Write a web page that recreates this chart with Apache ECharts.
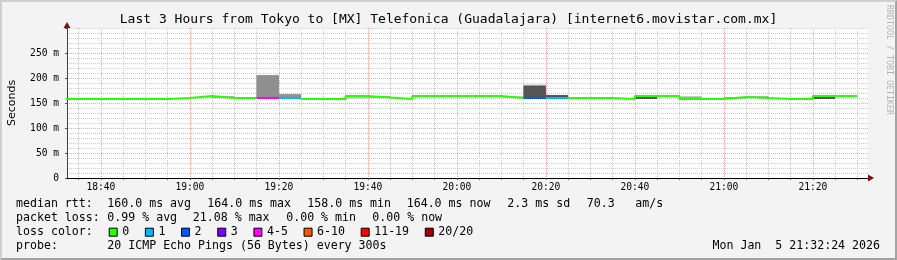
<!DOCTYPE html>
<html>
<head>
<meta charset="utf-8">
<script src="https://cdn.jsdelivr.net/npm/echarts@6/dist/echarts.min.js"></script>
<style>
html,body{margin:0;padding:0;background:#f3f3f3;}
#wrap{position:relative;width:897px;height:260px;}
#chart{position:absolute;left:0;top:0;width:897px;height:260px;}
#frame{position:absolute;left:0;top:0;width:897px;height:260px;box-sizing:border-box;
  border-top:2px solid #cfcfcf;border-left:2px solid #cfcfcf;border-right:2px solid #a3a3a3;border-bottom:2px solid #a3a3a3;pointer-events:none;}
</style>
</head>
<body>
<div id="wrap"><div id="chart"></div><div id="frame"></div></div>
<script>
// ---------------- data ----------------
const chartTitle = 'Last 3 Hours from Tokyo to [MX] Telefonica (Guadalajara) [internet6.movistar.com.mx]';
const intervalStart = ['18:30','18:35','18:40','18:45','18:50','18:55','19:00','19:05','19:10','19:15','19:20','19:25',
  '19:30','19:35','19:40','19:45','19:50','19:55','20:00','20:05','20:10','20:15','20:20','20:25',
  '20:30','20:35','20:40','20:45','20:50','20:55','21:00','21:05','21:10','21:15','21:20','21:25'];
const medianMs = [158,158,158,158,158,160,164,160,160,160,160,158,
  158,164,161,158,164,164,164,164,160,160,160,160,
  160,158,164,164,158,158,162,160,158,158,164,164];
const lostPings = [0,0,0,0,0,0,0,0,0,4,1,0,
  0,0,0,0,0,0,0,0,0,2,1,0,
  0,0,0,0,0,0,0,0,0,0,0,0];
// smoke bands: [interval start, low ms, high ms]
const smokeOuter = [['19:05',160,163.6],['19:15',159.5,205.5],['19:20',159.5,167.5],['19:35',158,164],['19:40',160.5,163.6],
  ['20:10',160,164],['20:15',159.5,187],['20:20',159.5,166],['20:40',158,164],['20:50',158,163],['21:00',158,162],['21:05',160,163.6],['21:20',158,164]];
const smokeMid = [['19:05',160,163.6],['19:15',159.5,205.5],['19:20',159.5,167.5],['19:40',160.5,163.6],
  ['20:15',159.5,186],['20:20',159.5,166],['20:40',158,164],['20:50',158,163],['21:00',158,162],['21:05',160,163.6],['21:20',158,164]];
const smokeInner = [['19:15',159.5,205.5],['19:20',159.5,167.5],['20:15',159.5,185],['20:20',159.5,166],['20:40',158,164],['21:20',158,164]];
const smokeCore = [['20:15',159.5,184],['20:20',159.5,166],['20:40',158,164],['21:20',158,164]];
const lossBuckets = ['0','1','2','3','4-5','6-10','11-19','20/20'];
const lossBucketMax = [0,1,2,3,5,10,19,20];
const xTickLabels = ['18:40','19:00','19:20','19:40','20:00','20:20','20:40','21:00','21:20'];
const yTickLabels = ['0','50 m','100 m','150 m','200 m','250 m'];
const viewStart = '18:32:24', viewEnd = '21:32:24';
const stepMinutes = 5;
const stats = {medAvg:'160.0', medMax:'164.0', medMin:'158.0', medNow:'164.0', sd:'2.3', amps:'70.3',
  lossAvg:'0.99', lossMax:'21.08', lossMin:'0.00', lossNow:'0.00'};
const probeText = '20 ICMP Echo Pings (56 Bytes) every 300s';
const dateText = 'Mon Jan  5 21:32:24 2026';

// ---------------- helpers ----------------
function toMin(s){const p=s.split(':').map(Number);return (p[0]-18)*60+p[1]+(p[2]||0)/60;}
const lossColors = ['#26ff00','#00b8ff','#0059ff','#7e00ff','#ff00ff','#ff5500','#ff0000','#a10000'];
function bucketOf(l){for(let b=0;b<lossBucketMax.length;b++){if(l<=lossBucketMax[b])return b;}return lossBucketMax.length-1;}
const xMin = toMin(viewStart), xMax = toMin(viewEnd);
const majorX = xTickLabels.map(toMin);
const minorX = [];
for (let t = Math.ceil(xMin/stepMinutes)*stepMinutes; t < xMax; t += stepMinutes) { if (t % 20 !== 0) minorX.push(t); }

const medianSeries = lossBuckets.map((name, b) => {
  const data = [];
  for (let i = 0; i < medianMs.length; i++) {
    if (bucketOf(lostPings[i]) !== b) continue;
    const t0 = toMin(intervalStart[i]), t1 = t0 + stepMinutes;
    data.push([t0, medianMs[i]], [t1, medianMs[i]]);
    if (i + 1 >= medianMs.length || bucketOf(lostPings[i+1]) !== b) data.push([t1, '-']);
  }
  return {name, type:'line', data, color: lossColors[b], symbol:'none', showSymbol:false,
    lineStyle:{width:2, color:lossColors[b]}, itemStyle:{color:lossColors[b]}, clip:true, z:5, animation:false, silent:true};
});

function smokeSeries(band, color, z){
  return {type:'custom', clip:true, z, silent:true, animation:false,
    data: band.map(r => [toMin(r[0]), toMin(r[0]) + stepMinutes, r[1], r[2]]),
    encode:{x:[0,1], y:[2,3]},
    renderItem:function(params, api){
      const p0 = api.coord([api.value(0), api.value(3)]);
      const p1 = api.coord([api.value(1), api.value(2)]);
      return {type:'rect', shape:{x:p0[0], y:p0[1], width:p1[0]-p0[0], height:p1[1]-p0[1]}, style:{fill:color}};
    }};
}

const mono = 'DejaVu Sans Mono';
const fs = 11.6;
function txt(text, left, top, extra){ return Object.assign({text, left, top, padding:0, textStyle:{fontFamily:mono, fontSize:fs, fontWeight:'normal', color:'#000'}}, extra||{}); }
const r1 = 198.2, r2 = 212.2, r3 = 226.2, r4 = 240.2;

const titles = [
  {text: chartTitle, left:'center', top:13.5, padding:0, textStyle:{fontFamily:mono, fontSize:13, fontWeight:'normal', color:'#000'}},
  txt('median rtt:', 16, r1), txt(stats.medAvg+' ms avg', 107.3, r1), txt(stats.medMax+' ms max', 207.3, r1),
  txt(stats.medMin+' ms min', 307.3, r1), txt(stats.medNow+' ms now', 406.7, r1), txt(stats.sd+' ms sd', 507.3, r1),
  txt(stats.amps, 586.7, r1), txt('am/s', 635.3, r1),
  txt('packet loss:', 16, r2), txt(stats.lossAvg+' % avg', 107.3, r2), txt(stats.lossMax+' % max', 192.8, r2),
  txt(stats.lossMin+' % min', 286.2, r2), txt(stats.lossNow+' % now', 372.3, r2),
  txt('loss color:', 16, r3),
  txt('probe:', 16, r4), txt(probeText, 107.3, r4),
  Object.assign(txt(dateText, 'auto', r4), {left:null, right:17})
];

const gridMinor = '#cbcbcb', gridMajor = '#f4a4a4';
const chart = echarts.init(document.getElementById('chart'), null, {renderer:'canvas'});
chart.setOption({
  backgroundColor:'#f3f3f3',
  animation:false,
  title: titles,
  grid:{left:67, right:29, top:28, bottom:82, show:true, backgroundColor:'#ffffff', borderWidth:0,
    containLabel:false, outerBoundsMode:'none'},
  legend:{data:lossBuckets, left:108.7, top:r3, padding:0, itemWidth:8, itemHeight:8, itemGap:15.7, itemTextGap:6.3,
    icon:'rect', selectedMode:false, itemStyle:{borderColor:'#000', borderWidth:1},
    textStyle:{fontFamily:mono, fontSize:fs, color:'#000'}},
  xAxis:[
    {type:'value', min:xMin, max:xMax, position:'bottom', z:3,
      axisLine:{show:true, onZero:false, lineStyle:{color:'#000', width:1}},
      axisTick:{show:true, customValues:majorX, length:2, lineStyle:{color:'#555'}},
      axisLabel:{show:true, customValues:majorX, margin:4, fontFamily:mono, fontSize:9.6, color:'#000',
        formatter:(v)=>{const k=majorX.findIndex(m=>Math.abs(m-v)<1e-6);return k>=0?xTickLabels[k]:'';}},
      splitLine:{show:true, lineStyle:{color:gridMajor, width:1, type:[1,1]}}},
    {type:'value', min:xMin, max:xMax, position:'bottom', z:2,
      axisLine:{show:false},
      axisTick:{show:true, customValues:minorX, length:2, lineStyle:{color:'#777'}},
      axisLabel:{show:false},
      splitLine:{show:true, lineStyle:{color:gridMinor, width:1, type:[1,1]}}},
    {type:'value', min:xMin, max:xMax, position:'bottom', z:4,
      axisLine:{show:true, onZero:false, symbol:['none','triangle'], symbolSize:[7,6], symbolOffset:[0,3], lineStyle:{color:'#801010', width:0}},
      axisTick:{show:false}, axisLabel:{show:false}, splitLine:{show:false}}
  ],
  yAxis:[
    {type:'value', min:0, max:300, interval:50, z:3, position:'left',
      name:'Seconds', nameLocation:'middle', nameGap:49, nameRotate:90,
      nameTextStyle:{fontFamily:'DejaVu Sans', fontSize:11, color:'#000'},
      axisLine:{show:true, onZero:false, lineStyle:{color:'#404040', width:1}},
      axisTick:{show:true, length:2, lineStyle:{color:'#555'}},
      axisLabel:{margin:8, fontFamily:mono, fontSize:9.6, color:'#000',
        formatter:(v)=>{const k=Math.round(v/50);return (k<yTickLabels.length)?yTickLabels[k]:'';}},
      splitLine:{show:true, lineStyle:{color:[gridMajor,gridMajor,gridMajor,gridMajor,gridMajor,gridMajor,gridMinor], width:1, type:[1,1]}},
      minorTick:{show:false, splitNumber:5},
      minorSplitLine:{show:true, lineStyle:{color:gridMinor, width:1, type:[1,1]}}},
    {type:'value', min:0, max:300, interval:50, z:4, position:'left', offset:0,
      axisLine:{show:true, onZero:false, symbol:['none','triangle'], symbolSize:[7,6], symbolOffset:[0,3], lineStyle:{color:'#801010', width:0}},
      axisTick:{show:false}, axisLabel:{show:false}, splitLine:{show:false}}
  ],
  graphic:[{type:'text', x:889, y:5, rotation:-Math.PI/2, silent:true,
    style:{text:'RRDTOOL / TOBI OETIKER', fontFamily:mono, fontSize:8.3, fill:'#b4b4b4', align:'left', verticalAlign:'middle'}}],
  series:[
    smokeSeries(smokeOuter, '#d0d0d0', 1),
    smokeSeries(smokeMid, '#aaaaaa', 2),
    smokeSeries(smokeInner, '#8f8f8f', 3),
    smokeSeries(smokeCore, '#555555', 4)
  ].concat(medianSeries)
});
</script>
</body>
</html>
